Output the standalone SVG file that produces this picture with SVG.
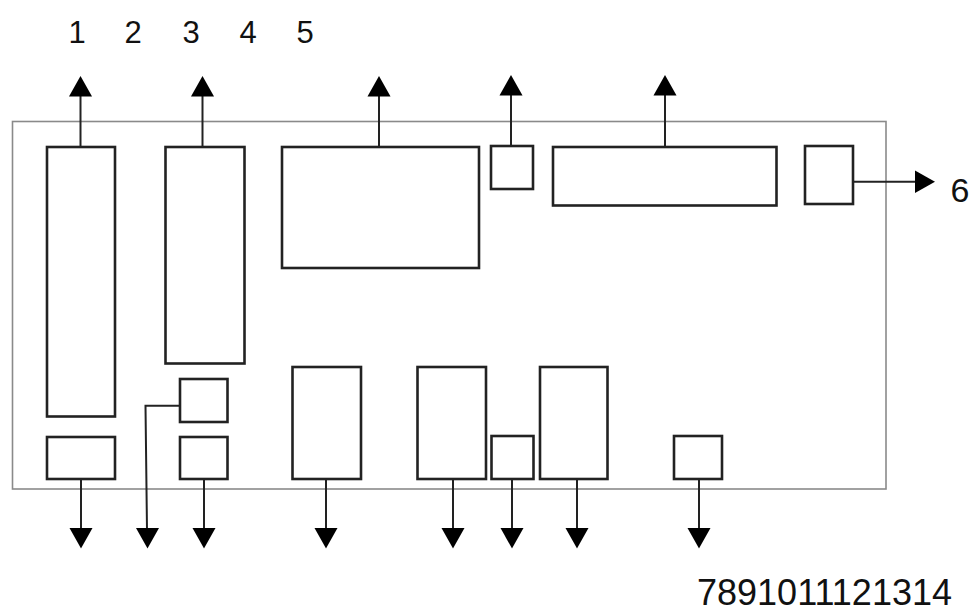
<svg xmlns="http://www.w3.org/2000/svg" width="976" height="615" viewBox="0 0 976 615">
<style>
.frame{fill:none;stroke:#8a8a8a;stroke-width:1.6}
.box{fill:#fff;stroke:#222;stroke-width:2.6}
.ln{fill:none;stroke:#222;stroke-width:2}
.ah{fill:#000}
.lbl{font-family:"Liberation Sans",Arial,sans-serif;fill:#111}
</style>
<rect width="976" height="615" fill="#fff"/>
<rect class="frame" x="12.5" y="121.5" width="873.5" height="367.5"/>
<g id="nodes">
<g id="nA"><rect class="box" x="47" y="147" width="68" height="269.5"/></g>
<g id="nB"><rect class="box" x="47" y="437" width="68" height="42"/></g>
<g id="nC"><rect class="box" x="165.5" y="147" width="79" height="216.5"/></g>
<g id="nD"><rect class="box" x="180" y="379" width="47.5" height="43"/></g>
<g id="nE"><rect class="box" x="180" y="437" width="47.5" height="42"/></g>
<g id="nF"><rect class="box" x="282" y="147" width="197" height="121"/></g>
<g id="nG"><rect class="box" x="491" y="146" width="42" height="43"/></g>
<g id="nH"><rect class="box" x="553" y="147" width="223.5" height="58.5"/></g>
<g id="nI"><rect class="box" x="805" y="146" width="48" height="58"/></g>
<g id="nJ"><rect class="box" x="292.5" y="367" width="68.5" height="112"/></g>
<g id="nK"><rect class="box" x="417.5" y="367" width="68.5" height="112"/></g>
<g id="nL"><rect class="box" x="491.5" y="436" width="42" height="43"/></g>
<g id="nM"><rect class="box" x="540" y="367" width="67.5" height="112"/></g>
<g id="nN"><rect class="box" x="674" y="436" width="48" height="43"/></g>
</g>
<g id="connectors">
<path class="ln" d="M80.5 147V95"/><path class="ah" d="M69 96.5L80.5 76L92 96.5Z"/>
<path class="ln" d="M202.5 147V95"/><path class="ah" d="M191 96.5L202.5 76L214 96.5Z"/>
<path class="ln" d="M379 147V95"/><path class="ah" d="M367.5 96.5L379 76L390.5 96.5Z"/>
<path class="ln" d="M511 146V94"/><path class="ah" d="M499.5 95.5L511 75L522.5 95.5Z"/>
<path class="ln" d="M665 147V94"/><path class="ah" d="M653.5 95.5L665 75L676.5 95.5Z"/>
<path class="ln" d="M853 181.7H917"/><path class="ah" d="M915 170.5L935 181.7L915 193Z"/>
<path class="ln" d="M81 479V530"/><path class="ah" d="M69.5 528L81 548.5L92.5 528Z"/>
<path class="ln" d="M180 405.7H145.5L147 530"/><path class="ah" d="M136 528L147.5 548.5L159 528Z"/>
<path class="ln" d="M204 479V530"/><path class="ah" d="M192.5 528L204 548.5L215.5 528Z"/>
<path class="ln" d="M326 479V530"/><path class="ah" d="M314.5 528L326 548.5L337.5 528Z"/>
<path class="ln" d="M453 479V530"/><path class="ah" d="M441.5 528L453 548.5L464.5 528Z"/>
<path class="ln" d="M512 479V530"/><path class="ah" d="M500.5 528L512 548.5L523.5 528Z"/>
<path class="ln" d="M577 479V530"/><path class="ah" d="M565.5 528L577 548.5L588.5 528Z"/>
<path class="ln" d="M699 479V530"/><path class="ah" d="M687.5 528L699 548.5L710.5 528Z"/>
</g>
<g id="labels" class="lbl" font-size="31" text-anchor="middle">
<text x="77" y="43">1</text>
<text x="133" y="43">2</text>
<text x="191" y="43">3</text>
<text x="248" y="43">4</text>
<text x="305" y="43">5</text>
<text x="960" y="202" font-size="34">6</text>
<text x="824.5" y="605" font-size="36">7891011121314</text>
</g>
</svg>
